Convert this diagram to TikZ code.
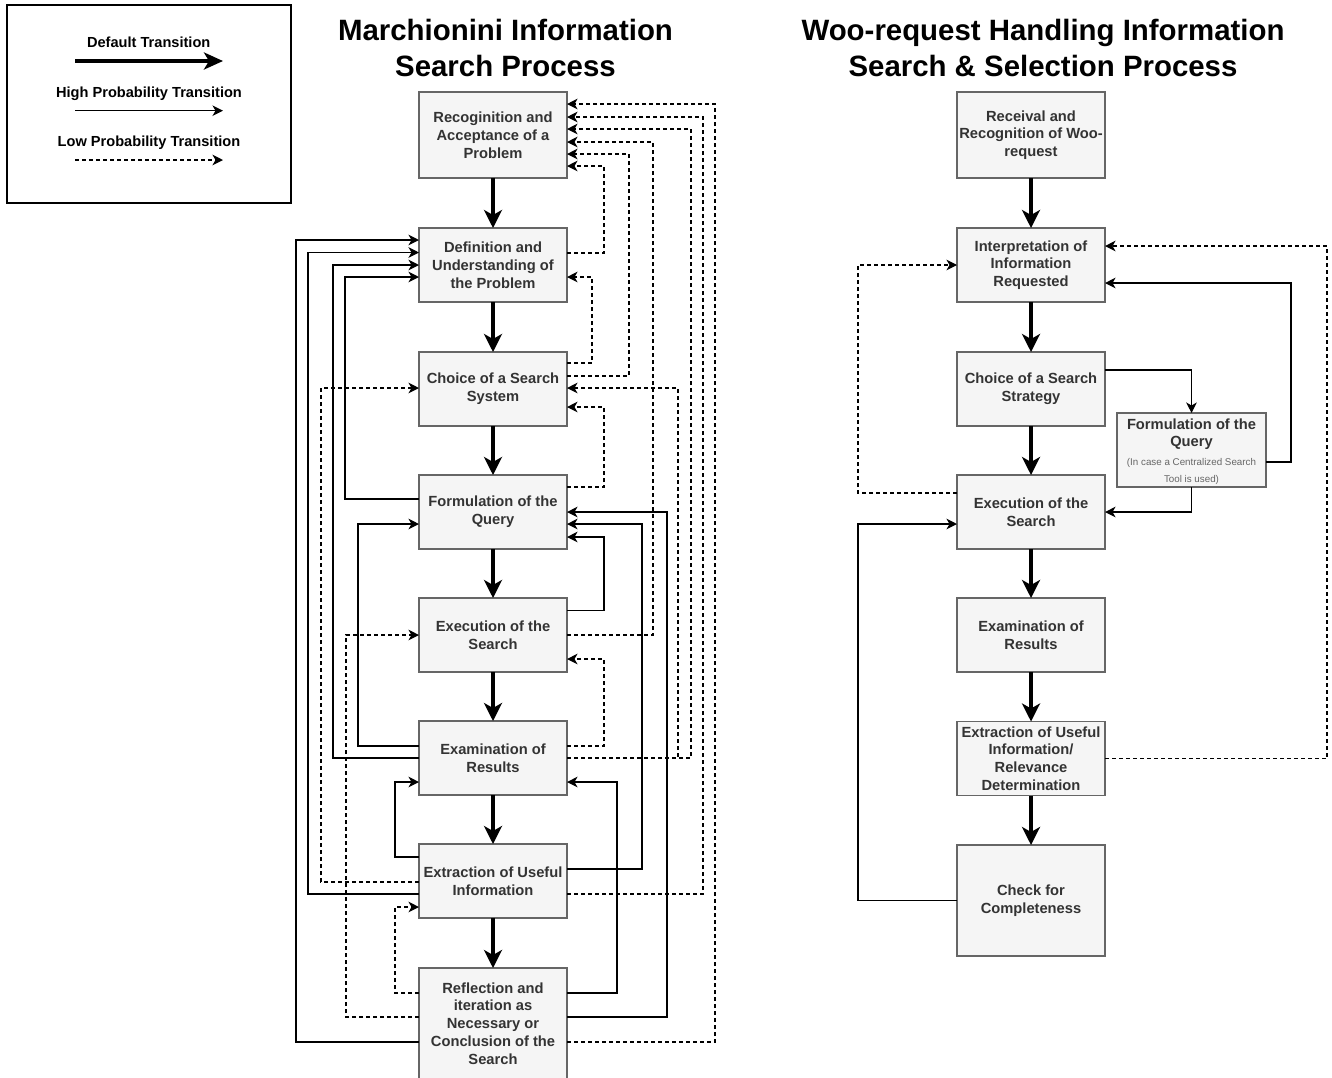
\documentclass[tikz,border=0pt]{standalone}
\usepackage{fontspec}
\setmainfont{Liberation Sans}
\usetikzlibrary{arrows.meta,calc}

\definecolor{boxfill}{HTML}{F5F5F5}
\definecolor{boxline}{HTML}{666666}
\definecolor{boxtext}{HTML}{333333}
\definecolor{notetext}{HTML}{666666}

\tikzset{
  stepbox/.style={draw=boxline, fill=boxfill, line width=1.3pt,
    minimum width=148pt, minimum height=74pt, inner sep=0pt, outer sep=0pt,
    align=center, text=boxtext, font=\fontsize{14.7}{17.8}\selectfont\bfseries},
  tallbox/.style={stepbox, minimum height=86pt},
  bigbox/.style={stepbox, minimum height=111pt},
  deftrans/.style={line width=4pt, -{Stealth[length=18pt,width=18pt,inset=5pt]}},
  hightrans/.style={line width=1.4pt, -{Stealth[length=10.5pt,width=10.5pt,inset=3pt]}},
  lowtrans/.style={hightrans, dash pattern=on 4pt off 3pt},
  titletext/.style={align=center, inner sep=0pt, font=\fontsize{29.4}{36}\selectfont\bfseries},
  legendtext/.style={anchor=base, inner sep=0pt, font=\fontsize{14.6}{17}\selectfont\bfseries},
}

\begin{document}
\begin{tikzpicture}[x=1pt, y=-1pt]
\useasboundingbox (0,0) rectangle (1332,1077);
\fill[white] (0,0) rectangle (1332,1077);

% ---------- legend ----------
\node[draw, line width=1.3pt, minimum width=284pt, minimum height=198pt, inner sep=0pt] (legend) at (149,104) {};
\node[legendtext] (lgdef) at (148.7,47.5) {Default Transition};
\node[legendtext] (lghigh) at (149,97) {High Probability Transition};
\node[legendtext] (lglow) at (149,146.3) {Low Probability Transition};
\coordinate (ld1) at (75,61);    \coordinate (ld2) at (223,61);
\coordinate (lh1) at (75,110.7); \coordinate (lh2) at (223,110.7);
\coordinate (ll1) at (75,160);   \coordinate (ll2) at (223,160);
\draw[line width=4pt, -{Stealth[length=19pt,width=17pt,inset=5pt]}] (ld1) -- (ld2);
\draw[hightrans] (lh1) -- (lh2);
\draw[lowtrans] (ll1) -- (ll2);

% ---------- titles ----------
\node[titletext] (ltitle) at (505.5,48) {Marchionini Information\\Search Process};
\node[titletext] (rtitle) at (1043,48) {Woo-request Handling Information\\Search \& Selection Process};

% ---------- Marchionini process ----------
\node[tallbox] (m1) at (493,135)    {Recoginition and\\Acceptance of a\\Problem};
\node[stepbox] (m2) at (493,265)    {Definition and\\Understanding of\\the Problem};
\node[stepbox] (m3) at (493,389)    {Choice of a Search\\System};
\node[stepbox] (m4) at (493,512)    {Formulation of the\\Query};
\node[stepbox] (m5) at (493,635)    {Execution of the\\Search};
\node[stepbox] (m6) at (493,758)    {Examination of\\Results};
\node[stepbox] (m7) at (493,881)    {Extraction of Useful\\Information};
\node[bigbox]  (m8) at (493,1023.5) {Reflection and\\iteration as\\Necessary or\\Conclusion of the\\Search};

\foreach \a/\b in {m1/m2,m2/m3,m3/m4,m4/m5,m5/m6,m6/m7,m7/m8}
  \draw[deftrans] (\a.south) -- (\b.north);

% low probability returns, right side
\draw[lowtrans] ([yshift=-74pt]m8.north east) -- ++(148,0) |- ([yshift=-12pt]m1.north east);
\draw[lowtrans] ([yshift=-50pt]m7.north east) -- ++(136,0) |- ([yshift=-25pt]m1.north east);
\draw[lowtrans] ([yshift=-37pt]m6.north east) -- ++(124,0) |- ([yshift=-37pt]m1.north east);
\draw[lowtrans] ([yshift=-37pt]m5.north east) -- ++(86,0)  |- ([yshift=-50pt]m1.north east);
\draw[lowtrans] ([yshift=-24pt]m3.north east) -- ++(62,0)  |- ([yshift=-62pt]m1.north east);
\draw[lowtrans] ([yshift=-25pt]m2.north east) -- ++(37,0)  |- ([yshift=-74pt]m1.north east);
\draw[lowtrans] ([yshift=-11pt]m3.north east) -- ++(25,0)  |- ([yshift=-49pt]m2.north east);
\draw[lowtrans] ([yshift=-37pt]m6.north east) -- ++(111,0) |- ([yshift=-36pt]m3.north east);
\draw[lowtrans] ([yshift=-12pt]m4.north east) -- ++(37,0)  |- ([yshift=-55pt]m3.north east);
\draw[lowtrans] ([yshift=-25pt]m6.north east) -- ++(37,0)  |- ([yshift=-61pt]m5.north east);
% low probability returns, left side
\draw[lowtrans] ([yshift=-38pt]m7.north west) -- ++(-98,0) |- ([yshift=-36pt]m3.north west);
\draw[lowtrans] ([yshift=-49pt]m8.north west) -- ++(-73,0) |- ([yshift=-37pt]m5.north west);
\draw[lowtrans] ([yshift=-25pt]m8.north west) -- ++(-24,0) |- ([yshift=-63pt]m7.north west);

% high probability returns, left side
\draw[hightrans] ([yshift=-74pt]m8.north west) -- ++(-123,0) |- ([yshift=-12pt]m2.north west);
\draw[hightrans] ([yshift=-50pt]m7.north west) -- ++(-111,0) |- ([yshift=-24.5pt]m2.north west);
\draw[hightrans] ([yshift=-37pt]m6.north west) -- ++(-86,0)  |- ([yshift=-37pt]m2.north west);
\draw[hightrans] ([yshift=-24pt]m4.north west) -- ++(-74,0)  |- ([yshift=-49pt]m2.north west);
\draw[hightrans] ([yshift=-25pt]m6.north west) -- ++(-61,0)  |- ([yshift=-49pt]m4.north west);
\draw[hightrans] ([yshift=-13pt]m7.north west) -- ++(-24,0)  |- ([yshift=-61pt]m6.north west);
% high probability returns, right side
\draw[hightrans] ([yshift=-49pt]m8.north east) -- ++(100,0) |- ([yshift=-37pt]m4.north east);
\draw[hightrans] ([yshift=-25pt]m7.north east) -- ++(75,0)  |- ([yshift=-49pt]m4.north east);
\draw[hightrans] ([yshift=-12.5pt]m5.north east) -- ++(37,0) |- ([yshift=-62pt]m4.north east);
\draw[hightrans] ([yshift=-25pt]m8.north east) -- ++(50,0)  |- ([yshift=-61pt]m6.north east);

% ---------- Woo-request process ----------
\node[tallbox] (r1) at (1031,135)   {Receival and\\Recognition of Woo-\\request};
\node[stepbox] (r2) at (1031,265)   {Interpretation of\\Information\\Requested};
\node[stepbox] (r3) at (1031,389)   {Choice of a Search\\Strategy};
\node[stepbox] (r4) at (1031,512)   {Execution of the\\Search};
\node[stepbox] (r5) at (1031,635)   {Examination of\\Results};
\node[stepbox] (r6) at (1031,758.5) {Extraction of Useful\\Information/\\Relevance\\Determination};
\node[bigbox]  (r7) at (1031,900.5) {Check for\\Completeness};

\node[stepbox, minimum width=149pt] (rf) at (1191.5,450) {};
\node[align=center, inner sep=0pt, text=boxtext, font=\fontsize{14.7}{17.6}\selectfont\bfseries]
  (rftitle) at (1191.5,434) {Formulation of the\\Query};
\node[align=center, inner sep=0pt, text=notetext, font=\fontsize{9.8}{17.3}\selectfont]
  (rfnote) at (1191.5,471.5) {(In case a Centralized Search\\Tool is used)};

\foreach \a/\b in {r1/r2,r2/r3,r3/r4,r4/r5,r5/r6,r6/r7}
  \draw[deftrans] (\a.south) -- (\b.north);

\draw[hightrans] ([yshift=-18pt]r3.north east) -| (rf.north);
\draw[hightrans] ([yshift=-49pt]rf.north east) -- ++(25,0) |- ([yshift=-55pt]r2.north east);
\draw[hightrans] (rf.south) |- (r4.east);
\draw[lowtrans] (r6.east) -- ++(222,0) |- ([yshift=-18pt]r2.north east);
\draw[lowtrans] ([yshift=-18pt]r4.north west) -- ++(-99,0) |- (r2.west);
\draw[hightrans] (r7.west) -- ++(-99,0) |- ([yshift=-49pt]r4.north west);

\end{tikzpicture}
\end{document}
